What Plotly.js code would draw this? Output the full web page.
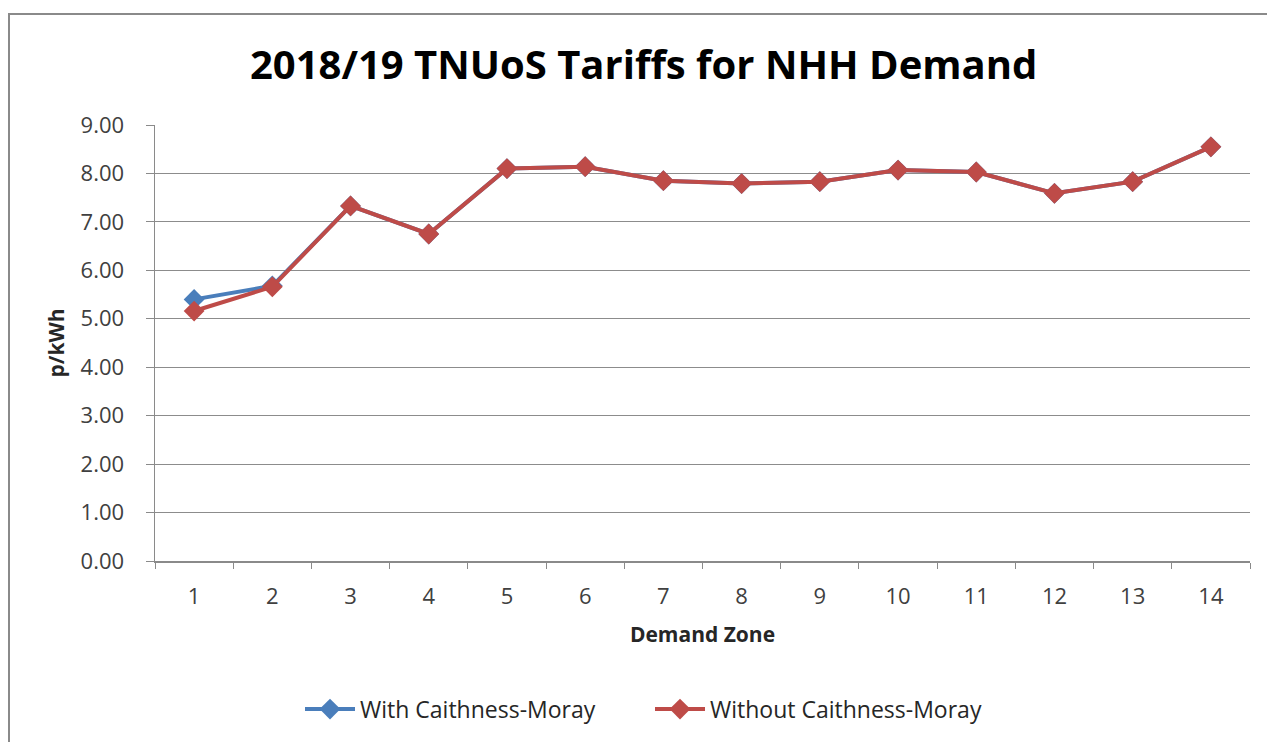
<!DOCTYPE html>
<html>
<head>
<meta charset="utf-8">
<script src="https://cdn.plot.ly/plotly-3.0.1.min.js"></script>
<style>
  html, body { margin: 0; padding: 0; background: #fff; overflow: hidden; }
  #frame { position: absolute; left: 8px; top: 13px; width: 1300px; height: 800px;
           border: 2px solid #8a8a8a; box-sizing: border-box; }
  #chart { position: absolute; left: 0; top: 0; width: 1267px; height: 742px; }
</style>
</head>
<body>
<div id="frame"></div>
<div id="chart"></div>
<script>
// Demand zones and NHH tariffs (p/kWh)
const zones = ['1','2','3','4','5','6','7','8','9','10','11','12','13','14'];
const withCM    = [5.40, 5.68, 7.33, 6.75, 8.10, 8.14, 7.85, 7.79, 7.83, 8.07, 8.03, 7.59, 7.83, 8.55];
const withoutCM = [5.16, 5.66, 7.33, 6.75, 8.10, 8.14, 7.85, 7.79, 7.83, 8.07, 8.03, 7.59, 7.83, 8.55];
const yTicks = [0,1,2,3,4,5,6,7,8,9];

const FONT = '"Open Sans", Lato, sans-serif';
const TXT = '#262626';

const traces = [
  { x: zones, y: withCM, name: 'With Caithness-Moray', type: 'scatter', mode: 'lines+markers',
    line: { color: '#4A7EBB', width: 4 },
    marker: { symbol: 'diamond', size: 16, color: '#4A7EBB' } },
  { x: zones, y: withoutCM, name: 'Without Caithness-Moray', type: 'scatter', mode: 'lines+markers',
    line: { color: '#BE4B48', width: 4 },
    marker: { symbol: 'diamond', size: 16, color: '#BE4B48' } }
];

const layout = {
  width: 1267, height: 742,
  paper_bgcolor: 'rgba(0,0,0,0)', plot_bgcolor: 'rgba(0,0,0,0)',
  margin: { l: 155, r: 17, t: 124.5, b: 179.5 },
  font: { family: FONT, color: TXT, size: 22 },
  title: { text: '<b>2018/19 TNUoS Tariffs for NHH Demand</b>',
           font: { family: FONT, size: 40, color: '#000' },
           xref: 'container', x: 0.508, xanchor: 'center',
           yref: 'container', y: 1 - 65/742, yanchor: 'middle' },
  xaxis: {
    type: 'category', range: [-0.5, 13.5], tickson: 'boundaries', ticks: 'outside', ticklen: 6,
    tickcolor: '#8a8a8a', showline: true, linecolor: '#8a8a8a', linewidth: 1.5,
    showgrid: false, ticklabelstandoff: 15,
    tickfont: { size: 22, color: '#404040' },
    title: { text: '<b>Demand Zone</b>', font: { size: 21, color: TXT }, standoff: 18 }
  },
  yaxis: {
    range: [0, 9], tickvals: yTicks, tickformat: '.2f', ticks: 'outside', ticklen: 8,
    tickcolor: '#8a8a8a', showline: true, linecolor: '#8a8a8a', linewidth: 1.5,
    gridcolor: '#8c8c8c', gridwidth: 1, zeroline: false, ticklabelstandoff: 17,
    tickfont: { size: 22, color: '#404040' },
    title: { text: '<b>p/kWh</b>', font: { size: 21, color: TXT }, standoff: 10 }
  },
  showlegend: true,
  legend: { orientation: 'h', x: (300 - 155) / 1095, xanchor: 'left', y: (562.5 - 710) / 438, yanchor: 'middle',
            font: { size: 23, color: TXT }, itemwidth: 50, entrywidth: 285, entrywidthmode: 'pixels',
            bgcolor: 'rgba(0,0,0,0)' }
};

Plotly.newPlot('chart', traces, layout, { displayModeBar: false, staticPlot: true });
</script>
</body>
</html>
